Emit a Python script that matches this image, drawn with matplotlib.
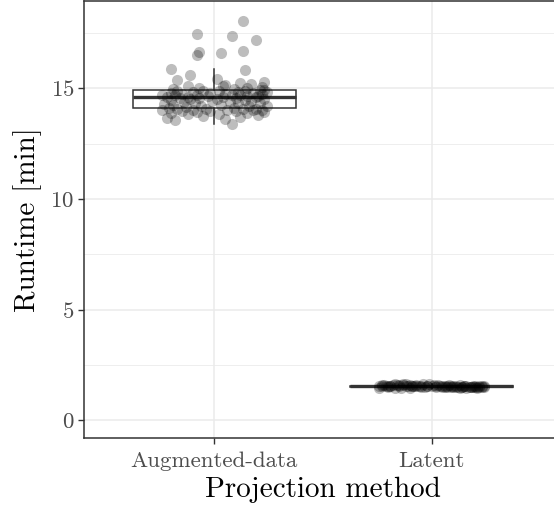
import matplotlib
matplotlib.use("Agg")
import matplotlib.pyplot as plt
import numpy as np

categories = ["Augmented-data", "Latent"]

aug_runtime = [
    13.37, 13.55, 13.62, 13.68, 13.72, 13.75, 13.80, 13.83, 13.86, 13.88,
    13.90, 13.92, 13.94, 13.96, 13.97, 13.99, 14.00, 14.01, 14.02, 14.03,
    14.04, 14.05, 14.06, 14.07, 14.08,
    14.10, 14.13, 14.15, 14.18, 14.20, 14.22, 14.25, 14.27, 14.30, 14.32,
    14.34, 14.36, 14.38, 14.40, 14.42, 14.44, 14.46, 14.48, 14.50, 14.52,
    14.54, 14.56, 14.57, 14.58, 14.60,
    14.61, 14.62, 14.63, 14.64, 14.65, 14.66, 14.68, 14.69, 14.70, 14.71,
    14.72, 14.74, 14.75, 14.76, 14.78, 14.79, 14.80, 14.82, 14.83, 14.85,
    14.86, 14.87, 14.88, 14.90, 14.91,
    14.93, 14.95, 14.97, 15.00, 15.03, 15.05, 15.09, 15.12, 15.14, 15.18,
    15.23, 15.27, 15.36, 15.41,
    15.59, 15.81, 15.86, 16.49, 16.58, 16.63, 16.67, 17.17, 17.35, 17.44,
    18.03,
]
aug_jitter = [
    0.08, -0.18, 0.05, -0.22, 0.12, -0.05, 0.20, -0.12, 0.02, -0.20,
    0.15, -0.08, 0.23, -0.15, 0.10, -0.02, 0.18, -0.24, 0.06, -0.10,
    0.22, -0.17, 0.13, -0.04, 0.19,
    -0.21, 0.09, -0.13, 0.24, -0.06, 0.16, -0.19, 0.03, -0.23, 0.11,
    -0.09, 0.21, -0.14, 0.07, -0.01, 0.17, -0.20, 0.14, -0.11, 0.01,
    0.23, -0.16, 0.10, -0.07, 0.19,
    -0.22, 0.04, -0.12, 0.20, -0.03, 0.15, -0.18, 0.08, -0.24, 0.12,
    -0.08, 0.22, -0.15, 0.05, -0.02, 0.18, -0.20, 0.11, -0.10, 0.24,
    -0.05, 0.14, -0.17, 0.02, 0.21,
    0.23, -0.19, 0.09, 0.15, -0.07, 0.22, -0.12, 0.04, 0.05, 0.17,
    0.12, 0.23, -0.17, 0.01,
    -0.11, 0.14, -0.20, -0.08, 0.03, -0.07, 0.13, 0.19, 0.08, -0.08,
    0.13,
]

lat_runtime = [
    1.47, 1.52, 1.55, 1.49, 1.58, 1.51, 1.54, 1.46, 1.60, 1.53,
    1.50, 1.56, 1.48, 1.62, 1.52, 1.55, 1.49, 1.57, 1.53, 1.45,
    1.59, 1.51, 1.54, 1.50, 1.56, 1.48, 1.61, 1.52, 1.55, 1.47,
    1.53, 1.58, 1.50, 1.54, 1.49, 1.57, 1.52, 1.65, 1.51, 1.55,
    1.48, 1.53, 1.60, 1.50, 1.56, 1.46, 1.54, 1.52, 1.58, 1.49,
    1.55, 1.51, 1.63, 1.53, 1.47, 1.57, 1.52, 1.50, 1.56, 1.54,
    1.48, 1.59, 1.53, 1.51, 1.55, 1.49, 1.57, 1.52, 1.61, 1.50,
    1.54, 1.47, 1.56, 1.53, 1.58, 1.51, 1.55, 1.49, 1.52, 1.54,
]
lat_jitter = [
    -0.24, 0.10, -0.05, 0.20, -0.15, 0.02, 0.24, -0.10, 0.13, -0.20,
    0.06, -0.02, 0.17, -0.13, 0.22, -0.07, 0.09, -0.22, 0.15, -0.17,
    0.03, 0.19, -0.09, 0.12, -0.23, 0.07, -0.04, 0.23, -0.12, 0.16,
    -0.19, 0.01, 0.11, -0.06, 0.21, -0.16, 0.05, -0.01, 0.18, -0.11,
    0.14, -0.21, 0.08, -0.03, 0.20, -0.14, 0.04, 0.16, -0.18, 0.10,
    -0.08, 0.24, -0.12, 0.00, 0.13, -0.23, 0.19, -0.05, 0.07, -0.15,
    0.22, -0.10, 0.15, -0.20, 0.02, 0.18, -0.07, 0.11, -0.17, 0.05,
    -0.24, 0.21, -0.02, 0.09, -0.13, 0.14, -0.19, 0.23, -0.09, 0.06,
]

y_ticks = [0, 5, 10, 15]
y_minor = [2.5, 7.5, 12.5, 17.5]

plt.rcParams["font.family"] = ["cmr10", "DejaVu Serif"]
plt.rcParams["axes.formatter.use_mathtext"] = True

fig = plt.figure(figsize=(5.54, 5.08), dpi=100)
ax = fig.add_axes([84 / 554, 1 - 438 / 508, (562 - 84) / 554, 437 / 508])

grid_c = "#EBEBEB"
dark = "#333333"

for y in y_minor:
    ax.axhline(y, color=grid_c, lw=0.6, zorder=0)
for y in y_ticks:
    ax.axhline(y, color=grid_c, lw=1.1, zorder=0)
for x in [1, 2]:
    ax.axvline(x, color=grid_c, lw=1.1, zorder=0)

bp = ax.boxplot([aug_runtime, lat_runtime], positions=[1, 2], widths=0.75,
                whis=1.5, showfliers=False, patch_artist=True,
                boxprops=dict(facecolor="white", edgecolor=dark, linewidth=1.1),
                whiskerprops=dict(color=dark, linewidth=1.1),
                capprops=dict(linewidth=0),
                medianprops=dict(color=dark, linewidth=2.4),
                zorder=2)

ax.scatter(1 + np.array(aug_jitter), aug_runtime, s=64, color="black",
           alpha=0.26, linewidths=0, zorder=3)
ax.scatter(2 + np.array(lat_jitter), lat_runtime, s=64, color="black",
           alpha=0.26, linewidths=0, zorder=3)

ax.set_xlim(0.4, 2.6)
ax.set_ylim(-0.81, 18.95)
ax.set_xticks([1, 2])
ax.set_xticklabels(categories)
ax.set_yticks(y_ticks)
ax.tick_params(axis="both", colors=dark, length=4, width=1.0,
               labelsize=16.5, labelcolor="#4D4D4D", pad=3)
ax.tick_params(axis="x", pad=5.5)
for sp in ax.spines.values():
    sp.set_color(dark)
    sp.set_linewidth(1.1)

ax.set_xlabel("Projection method", fontsize=21, color="black", labelpad=4)
ax.set_ylabel("Runtime [min]", fontsize=21, color="black", labelpad=6)

fig.savefig("out.png", dpi=100)
